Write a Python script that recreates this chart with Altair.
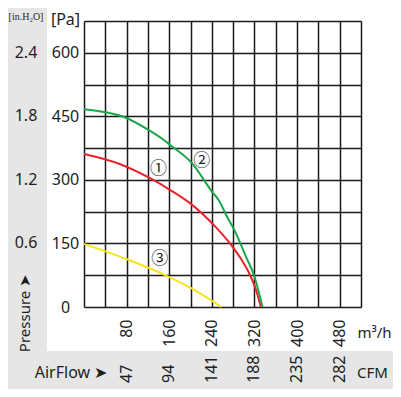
import altair as alt
import pandas as pd

# ---- data ----
flow_1 = [0, 68, 124, 162, 200, 247, 279, 294, 310, 323, 332]
pres_1 = [361, 337, 304, 276, 244, 189, 142, 115, 80, 40, 0]
flow_2 = [0, 74, 121, 150, 162, 203, 241, 253, 269, 282, 304, 321, 335]
pres_2 = [467, 449, 418, 394, 382, 339, 271, 252, 212, 182, 119, 68, 0]
flow_3 = [0, 82, 151, 208, 258]
pres_3 = [149, 112, 76, 40, 0]
series_names = ["①", "②", "③"]
series_colors = ["#e8232b", "#1aa64b", "#f6e51e"]
label_flow = [140, 221, 142]
label_pres = [325, 344, 113]

x_grid = list(range(0, 521, 40))
y_grid = list(range(0, 676, 75))
m3h_ticks = [80, 160, 240, 320, 400, 480]
cfm_labels = ["47", "94", "141", "188", "235", "282"]
pa_ticks = [0, 150, 300, 450, 600]
inh2o_ticks = [150, 300, 450, 600]
inh2o_labels = ["0.6", "1.2", "1.8", "2.4"]

FONT = "Noto Sans"
TXT = "#1e1e1e"
GRID = "#1a1a1a"
GRAY = "#e6e6e6"
FS = 16

rows = []
for name, fx, fy in zip(series_names, [flow_1, flow_2, flow_3], [pres_1, pres_2, pres_3]):
    for a, b in zip(fx, fy):
        rows.append({"flow": a, "pres": b, "series": name})
curves = pd.DataFrame(rows)
labels = pd.DataFrame({"flow": label_flow, "pres": label_pres, "series": series_names})
cfm_df = pd.DataFrame({"flow": m3h_ticks, "lab": cfm_labels})
inh2o_df = pd.DataFrame({"pres": inh2o_ticks, "lab": inh2o_labels})


def expr_map(vals, labs):
    e = "''"
    for v, l in zip(reversed(vals), reversed(labs)):
        e = f"datum.value == {v} ? '{l}' : ({e})"
    return e


xs = alt.Scale(domain=[0, 520], nice=False, zero=True)
ys = alt.Scale(domain=[0, 675], nice=False, zero=True)

# background bands
one = pd.DataFrame({"k": [0]})
band_left = alt.Chart(one).mark_rect(color=GRAY).encode(
    x=alt.value(-76), x2=alt.value(-37), y=alt.value(-13), y2=alt.value(330))
band_bottom = alt.Chart(one).mark_rect(color=GRAY).encode(
    x=alt.value(-76), x2=alt.value(310), y=alt.value(330), y2=alt.value(373))

main_x_axis = alt.Axis(
    values=x_grid, grid=True, gridColor=GRID, gridWidth=1.5, gridOpacity=1,
    domain=False, ticks=False, tickSize=0,
    labelExpr=expr_map(m3h_ticks, [str(v) for v in m3h_ticks]),
    labelAngle=270, labelAlign="right", labelBaseline="middle", labelPadding=12,
    labelFont=FONT, labelFontSize=FS, labelColor=TXT, labelFlush=False, labelOverlap=False,
    title="m³/h", titleAngle=0, titleX=273, titleY=25, titleAlign="left",
    titleBaseline="middle", titleFont=FONT, titleFontSize=15, titleFontWeight="normal",
    titleColor=TXT, orient="bottom")
main_y_axis = alt.Axis(
    values=y_grid, grid=True, gridColor=GRID, gridWidth=1.5, gridOpacity=1,
    domain=False, ticks=False, tickSize=0,
    labelExpr=expr_map(pa_ticks, [str(v) for v in pa_ticks]),
    labelAlign="center", labelBaseline="middle", labelPadding=19,
    labelFont=FONT, labelFontSize=FS, labelColor=TXT, labelFlush=False, labelOverlap=False,
    title="[Pa]", titleAngle=0, titleX=-19, titleY=-2, titleAlign="center",
    titleBaseline="middle", titleFont=FONT, titleFontSize=FS, titleFontWeight="normal",
    titleColor=TXT, orient="left")

color = alt.Color("series:N", scale=alt.Scale(domain=series_names, range=series_colors), legend=None)

lines = alt.Chart(curves).mark_line(interpolate="monotone", strokeWidth=2).encode(
    x=alt.X("flow:Q", scale=xs, axis=main_x_axis),
    y=alt.Y("pres:Q", scale=ys, axis=main_y_axis),
    color=color, detail="series:N")

tags = alt.Chart(labels).mark_text(font="Noto Sans CJK SC", fontSize=17, color=TXT).encode(
    x=alt.X("flow:Q", scale=xs, axis=None),
    y=alt.Y("pres:Q", scale=ys, axis=None),
    text="series:N")

cfm_text = alt.Chart(cfm_df).mark_text(
    angle=270, align="left", baseline="middle", font=FONT, fontSize=FS, color=TXT).encode(
    x=alt.X("flow:Q", scale=xs, axis=None), y=alt.value(362), text="lab:N")

inh2o_text = alt.Chart(inh2o_df).mark_text(
    align="center", baseline="middle", font=FONT, fontSize=FS, color=TXT).encode(
    x=alt.value(-58), y=alt.Y("pres:Q", scale=ys, axis=None), text="lab:N")

pressure_txt = alt.Chart(one).mark_text(
    text="Pressure ➤", angle=270, align="center", baseline="middle",
    font=FONT, fontSize=15, color=TXT).encode(x=alt.value(-59), y=alt.value(292))
airflow_txt = alt.Chart(one).mark_text(
    text="AirFlow ➤", align="center", baseline="middle",
    font=FONT, fontSize=16, color=TXT).encode(x=alt.value(-13), y=alt.value(352))
cfm_title = alt.Chart(one).mark_text(
    text="CFM", align="left", baseline="middle",
    font=FONT, fontSize=15, color=TXT).encode(x=alt.value(273), y=alt.value(352))
inh2o_title = alt.Chart(one).mark_text(
    text="[in.H₂O]", align="center", baseline="middle",
    font="Liberation Sans Narrow", fontSize=10, color=TXT).encode(x=alt.value(-58), y=alt.value(-4))

chart = alt.layer(
    band_left, band_bottom, lines, tags, cfm_text, inh2o_text,
    pressure_txt, airflow_txt, cfm_title, inh2o_title
).resolve_axis(x="independent", y="independent").properties(
    width=277, height=286,
    autosize=alt.AutoSizeParams(type="none"),
    padding={"left": 76, "top": 13, "right": 32, "bottom": 82},
).configure_view(stroke=None)

chart.save("out.html", embed_options={"renderer": "svg", "actions": False})
